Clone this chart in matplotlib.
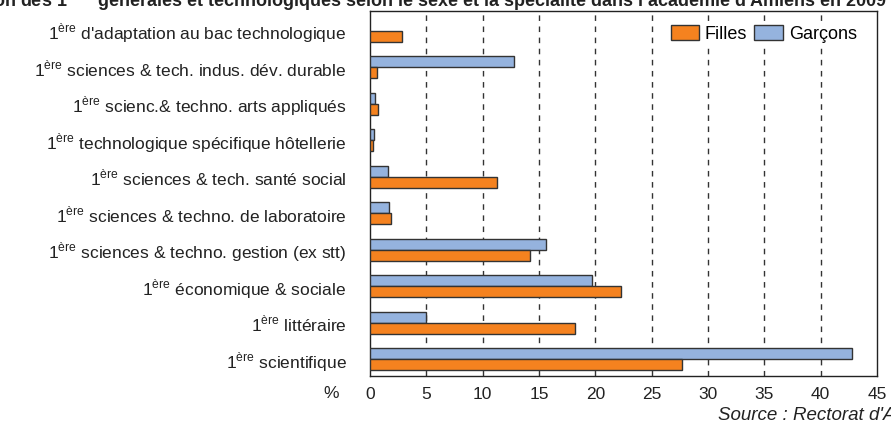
import numpy as np
import matplotlib.pyplot as plt
from matplotlib.patches import Patch

# data (bottom to top)
categories = [
    "scientifique",
    "littéraire",
    "économique & sociale",
    "sciences & techno. gestion (ex stt)",
    "sciences & techno. de laboratoire",
    "sciences & tech. santé social",
    "technologique spécifique hôtellerie",
    "scienc.& techno. arts appliqués",
    "sciences & tech. indus. dév. durable",
    "d'adaptation au bac technologique",
]
filles = [27.7, 18.2, 22.3, 14.2, 1.9, 11.3, 0.3, 0.7, 0.6, 2.8]
garcons = [42.8, 5.0, 19.7, 15.6, 1.7, 1.6, 0.35, 0.4, 12.8, 0.0]
xticks = [0, 5, 10, 15, 20, 25, 30, 35, 40, 45]

FONT = ["Liberation Sans Narrow", "Liberation Sans", "DejaVu Sans"]
plt.rcParams["font.family"] = FONT
plt.rcParams["mathtext.fontset"] = "custom"
plt.rcParams["mathtext.rm"] = "Liberation Sans"
plt.rcParams["mathtext.bf"] = "Liberation Sans:bold"

ORANGE = "#F5821F"
BLUE = "#95B3DE"
EDGE = "#333333"
TXT = "#222222"

fig = plt.figure(figsize=(8.91, 4.23), dpi=100)
ax = fig.add_axes([370 / 891, 1 - 376 / 423, (877 - 370) / 891, (376 - 11) / 423])

y = np.arange(len(categories))
h = 0.3
g = [v if v > 0 else np.nan for v in garcons]
ax.barh(y + h / 2, g, height=h, color=BLUE, edgecolor=EDGE, linewidth=1.0, zorder=3)
ax.barh(y - h / 2, filles, height=h, color=ORANGE, edgecolor=EDGE, linewidth=1.0, zorder=3)

ax.set_xlim(0, 45)
ax.set_ylim(-0.46, len(categories) - 0.46)
ax.set_yticks(y)
ax.set_yticklabels(["1$^{\\mathrm{ère}}$ " + c for c in categories], fontsize=12.5, color=TXT)
ax.set_xticks(xticks)
ax.set_xticklabels([str(t) for t in xticks], fontsize=12.5, color=TXT)
ax.tick_params(length=0)
ax.tick_params(axis="x", pad=8)
ax.tick_params(axis="y", pad=17)

for t in xticks[1:-1]:
    ax.axvline(t, color="#333333", linestyle=(0, (4, 4)), linewidth=1.0, zorder=1)

for s in ax.spines.values():
    s.set_color(TXT)
    s.set_linewidth(1.0)

leg = ax.legend(
    handles=[Patch(facecolor=ORANGE, edgecolor=EDGE, label="Filles"),
             Patch(facecolor=BLUE, edgecolor=EDGE, label="Garçons")],
    loc="upper right", ncol=2, frameon=True, fontsize=13,
    handlelength=1.6, handleheight=0.9, handletextpad=0.3, columnspacing=0.4,
    borderpad=0.2, bbox_to_anchor=(0.985, 0.995),
)
leg.get_frame().set_edgecolor("white")
leg.get_frame().set_facecolor("white")
leg.get_frame().set_alpha(1)
leg.set_zorder(5)

fig.text(323 / 891, 1 - 393 / 423, "%", fontsize=12.5, color=TXT, ha="left", va="center")
fig.text(718 / 891, 1 - 415 / 423, "Source : Rectorat d'Amiens", fontsize=13.5, style="italic",
         color=TXT, ha="left", va="center")
fig.text(-80 / 891, 1 - 1 / 423,
         "Répartition des 1$^{\\mathbf{ères}}$ générales et technologiques selon le sexe et la spécialité dans l'académie d'Amiens en 2009",
         fontsize=13, weight="bold", color=TXT, ha="left", va="center")

fig.savefig("out.png", dpi=100)
